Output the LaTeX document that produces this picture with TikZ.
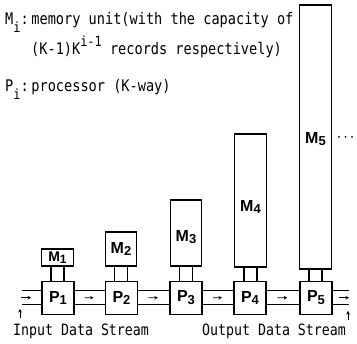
\documentclass[tikz,border=0pt]{standalone}
\usepackage{fontspec}
\setmainfont[FakeStretch=0.85]{DejaVu Sans Mono}
\newfontfamily\lblfont{Liberation Sans}
\usetikzlibrary{arrows.meta,calc}
\newcommand\dsub[1]{\raisebox{-2.5pt}{\fontsize{13}{13}\selectfont #1}}
\newcommand\tsub[1]{\raisebox{-8pt}{\fontsize{14}{14}\selectfont #1}}
\newcommand\tsup[1]{\raisebox{8pt}{\fontsize{14}{14}\selectfont #1}}
\begin{document}
\begin{tikzpicture}[x=1pt,y=-1pt,
  box/.style={draw, line width=1.3pt, inner sep=0pt},
  pbox/.style={box, minimum width=32pt, minimum height=33pt},
  mbox/.style={box, minimum width=31.5pt, minimum height=#1},
  chan/.style={line width=1.3pt},
  flow/.style={-{Stealth[length=3.5pt,width=3.5pt]}, line width=0.9pt},
  lbl/.style={font=\lblfont\bfseries\fontsize{16}{16}\selectfont, inner sep=0pt},
  dot/.style={circle, fill, inner sep=0pt, minimum size=2pt},
  txt/.style={font=\fontsize{16}{16}\selectfont, inner sep=0pt, anchor=base west},
  btxt/.style={font=\fontsize{15.6}{16}\selectfont, inner sep=0pt, anchor=base west}]
\useasboundingbox (0,0) rectangle (357,344);
% header text
\node[txt] (t1) at (5,25) {M\tsub{i}:\,memory unit(with the capacity of};
\node[txt] (t2) at (31,55) {(K-1)K\tsup{i-1} records respectively)};
\node[txt] (t3) at (5,92) {P\tsub{i}:\,processor (K-way)};
% processors
\node[pbox] (P1) at (58,297.75) {};
\node[pbox] (P2) at (121.5,297.75) {};
\node[pbox] (P3) at (186,297.75) {};
\node[pbox] (P4) at (250,297.75) {};
\node[pbox] (P5) at (316,297.75) {};
\node[lbl] (lP1) at (P1) {P\dsub{1}};
\node[lbl] (lP2) at (P2) {P\dsub{2}};
\node[lbl] (lP3) at (P3) {P\dsub{3}};
\node[lbl] (lP4) at (P4) {P\dsub{4}};
\node[lbl] (lP5) at (P5) {P\dsub{5}};
% memories
\node[mbox=17pt] (M1) at (57.5,257.5) {};
\node[mbox=34pt] (M2) at (121,249) {};
\node[mbox=66pt] (M3) at (186,233) {};
\node[mbox=133pt] (M4) at (250.5,200.5) {};
\node[mbox=264pt] (M5) at (315.5,137) {};
\node[lbl, font=\lblfont\bfseries\fontsize{14}{14}\selectfont] (lM1) at (57.5,257.5) {M\raisebox{-1.5pt}{\fontsize{12}{12}\selectfont 1}};
\node[lbl] (lM2) at (121,249) {M\dsub{2}};
\node[lbl] (lM3) at (186,237) {M\dsub{3}};
\node[lbl] (lM4) at (250.5,207) {M\dsub{4}};
\node[lbl] (lM5) at (315.5,139) {M\dsub{5}};
\node[dot] (d1) at (339,137) {};
\node[dot] (d2) at (345.5,137) {};
\node[dot] (d3) at (352,137) {};
% memory-processor links
\foreach \i in {1,...,5}{
  \draw[chan] ([xshift=-6.5pt]M\i.south) -- ([xshift=-6.5pt]M\i.south |- P\i.north);
  \draw[chan] ([xshift=6.5pt]M\i.south) -- ([xshift=6.5pt]M\i.south |- P\i.north);
}
% channels between processors
\foreach \a/\b in {1/2,2/3,3/4,4/5}{
  \draw[chan] ([yshift=7pt]P\a.east) -- ([yshift=7pt]P\b.west);
  \draw[chan] ([yshift=-7pt]P\a.east) -- ([yshift=-7pt]P\b.west);
  \draw[flow] ($(P\a.east)!0.33!(P\b.west)$) -- ($(P\a.east)!0.63!(P\b.west)$);
}
% input and output
\coordinate (inT) at (22,290.75);
\coordinate (inB) at (22,304.75);
\coordinate (inA) at (21,297.75);
\coordinate (inA2) at (31,297.75);
\coordinate (outT) at (349,290.75);
\coordinate (outB) at (349,304.75);
\coordinate (outA) at (339,297.75);
\coordinate (outA2) at (349,297.75);
\draw[chan] (inT) -- ([yshift=7pt]P1.west);
\draw[chan] (inB) -- ([yshift=-7pt]P1.west);
\draw[flow] (inA) -- (inA2);
\draw[chan] ([yshift=7pt]P5.east) -- (outT);
\draw[chan] ([yshift=-7pt]P5.east) -- (outB);
\draw[flow] (outA) -- (outA2);
\coordinate (upA) at (20,318);
\coordinate (upA2) at (20,309);
\coordinate (upB) at (348,320);
\coordinate (upB2) at (348,311);
\draw[flow] (upA) -- (upA2);
\draw[flow] (upB) -- (upB2);
\node[btxt] (tin) at (13,336) {Input Data Stream};
\node[btxt] (tout) at (202,336) {Output Data Stream};
\end{tikzpicture}
\end{document}
